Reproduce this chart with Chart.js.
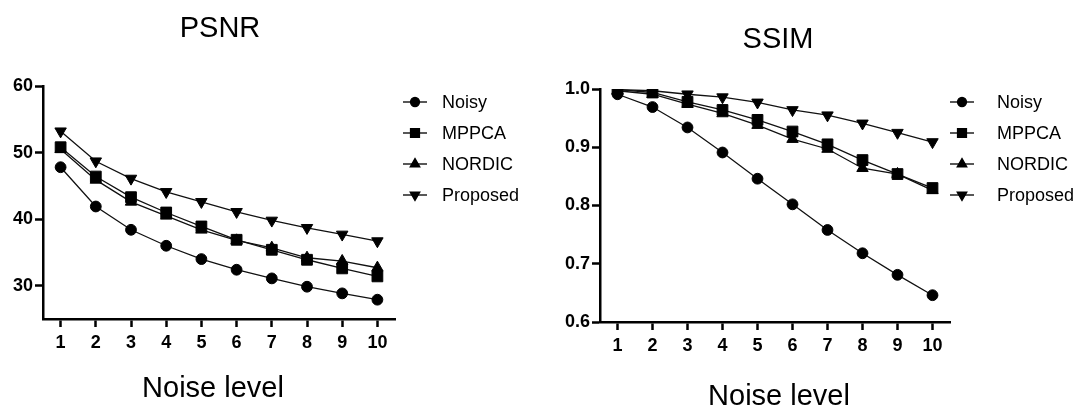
<!DOCTYPE html>
<html><head><meta charset="utf-8">
<script src="https://cdn.jsdelivr.net/npm/chart.js@4.4.1/dist/chart.umd.min.js"></script>
<style>
html,body{margin:0;padding:0;background:#fff;}
#wrap{position:relative;width:1083px;height:407px;overflow:hidden;background:#fff;}
#c1{position:absolute;left:0;top:0;width:540px;height:407px;}
#c2{position:absolute;left:540px;top:0;width:543px;height:407px;}
</style></head><body>
<div id="wrap"><canvas id="c1" width="540" height="407"></canvas><canvas id="c2" width="543" height="407"></canvas></div>
<script>
const noiseLevels = ['1','2','3','4','5','6','7','8','9','10'];
const seriesNames = ['Noisy','MPPCA','NORDIC','Proposed'];

const psnrNoisy    = [47.8, 41.9, 38.4, 36.0, 34.0, 32.4, 31.1, 29.85, 28.85, 27.9];
const psnrMPPCA    = [50.8, 46.4, 43.3, 41.0, 38.9, 36.9, 35.4, 33.9, 32.6, 31.4];
const psnrNORDIC   = [50.5, 45.9, 42.6, 40.5, 38.4, 36.8, 35.7, 34.2, 33.7, 32.7];
const psnrProposed = [53.2, 48.7, 46.1, 44.1, 42.6, 41.1, 39.8, 38.7, 37.7, 36.7];

const ssimNoisy    = [0.991, 0.969, 0.934, 0.891, 0.846, 0.802, 0.758, 0.718, 0.681, 0.646];
const ssimMPPCA    = [0.999, 0.994, 0.978, 0.964, 0.947, 0.927, 0.905, 0.878, 0.854, 0.830];
const ssimNORDIC   = [0.997, 0.991, 0.974, 0.958, 0.938, 0.914, 0.897, 0.864, 0.854, 0.826];
const ssimProposed = [0.999, 0.997, 0.991, 0.986, 0.977, 0.964, 0.955, 0.941, 0.925, 0.909];

const psnrTicks = [30, 40, 50, 60];
const ssimTicks = [0.6, 0.7, 0.8, 0.9, 1.0];

const FONT = "'Liberation Sans', Arial, Helvetica, sans-serif";
const markerStyles = [
  {pointStyle:'circle', pointRotation:0, pointRadius:5.4},
  {pointStyle:'rect', pointRotation:0, pointRadius:7.6},
  {pointStyle:'triangle', pointRotation:0, pointRadius:6.6},
  {pointStyle:'triangle', pointRotation:180, pointRadius:6.6}
];

function makeDatasets(arrs){
  return arrs.map((d,i)=>Object.assign({
    label: seriesNames[i],
    data: d,
    borderColor:'#111',
    backgroundColor:'#000',
    pointBackgroundColor:'#000',
    pointBorderColor:'#000',
    pointBorderWidth:1,
    borderWidth:1.3,
    tension:0,
    fill:false
  }, markerStyles[i]));
}

const extraText = {
  id:'extraText',
  afterDraw(chart, args, o){
    const ctx = chart.ctx;
    ctx.save();
    ctx.fillStyle = '#000';
    ctx.textAlign = 'center';
    ctx.textBaseline = 'alphabetic';
    ctx.font = `${o.titleSize}px ${FONT}`;
    ctx.fillText(o.title, o.titleX, o.titleY);
    ctx.font = `${o.axisSize}px ${FONT}`;
    ctx.fillText(o.axisTitle, o.axisX, o.axisY);
    chart.data.datasets.forEach((ds,i)=>{
      const y = o.legendY + i*o.legendDy;
      ctx.strokeStyle = '#111';
      ctx.lineWidth = 1.4;
      ctx.beginPath();
      ctx.moveTo(o.legendX - o.legendHalf, y);
      ctx.lineTo(o.legendX + o.legendHalf, y);
      ctx.stroke();
      ctx.fillStyle = '#000';
      ctx.strokeStyle = '#000';
      Chart.helpers.drawPoint(ctx, {pointStyle: ds.pointStyle, rotation: ds.pointRotation||0, radius: ds.pointRadius*0.82, borderWidth: 1}, o.legendX, y);
      ctx.textAlign = 'left';
      ctx.textBaseline = 'middle';
      ctx.font = `${o.legendSize}px ${FONT}`;
      ctx.fillText(ds.label, o.legendTextX, y + 1);
    });
    ctx.restore();
  }
};

function axisCommon(){
  return {
    grid:{display:true, drawOnChartArea:false, drawTicks:true, tickLength:8, tickWidth:2.5, tickColor:'#000', offset:false},
    border:{display:true, color:'#000', width:2.5},
  };
}

function makeChart(id, datasets, yMin, yMax, yTicks, fmt, pad, yWidth, xHeight, textOpts){
  const xs = axisCommon();
  const ys = axisCommon();
  return new Chart(document.getElementById(id), {
    type:'line',
    data:{labels: noiseLevels, datasets},
    plugins:[extraText],
    options:{
      responsive:false,
      animation:false,
      layout:{padding:pad},
      plugins:{legend:{display:false}, title:{display:false}, tooltip:{enabled:false}, extraText:textOpts},
      scales:{
        x: Object.assign(xs, {
          type:'category', offset:true,
          ticks:{color:'#000', font:{family:FONT, size:18, weight:'bold'}, padding:5, maxRotation:0, autoSkip:false},
          afterFit:s=>{s.height = xHeight;}
        }),
        y: Object.assign(ys, {
          type:'linear', min:yMin, max:yMax,
          afterBuildTicks:s=>{s.ticks = yTicks.map(v=>({value:v}));},
          ticks:{color:'#000', font:{family:FONT, size:18, weight:'bold'}, padding:2, callback:fmt},
          afterFit:s=>{s.width = yWidth;}
        })
      }
    }
  });
}

makeChart('c1', makeDatasets([psnrNoisy, psnrMPPCA, psnrNORDIC, psnrProposed]), 25, 60, psnrTicks,
  v=>String(v), {top:86, left:0, right:145, bottom:0}, 43, 88,
  {title:'PSNR', titleSize:29, titleX:220, titleY:37, axisTitle:'Noise level', axisSize:29, axisX:213, axisY:397,
   legendX:415, legendHalf:12, legendTextX:442, legendY:102, legendDy:31, legendSize:18});

makeChart('c2', makeDatasets([ssimNoisy, ssimMPPCA, ssimNORDIC, ssimProposed]), 0.6, 1.0, ssimTicks,
  v=>Number(v).toFixed(1), {top:89, left:0, right:133, bottom:0}, 60, 85,
  {title:'SSIM', titleSize:29, titleX:238, titleY:48, axisTitle:'Noise level', axisSize:29, axisX:239, axisY:405,
   legendX:422, legendHalf:12, legendTextX:457, legendY:102, legendDy:31, legendSize:18});
</script>
</body></html>
